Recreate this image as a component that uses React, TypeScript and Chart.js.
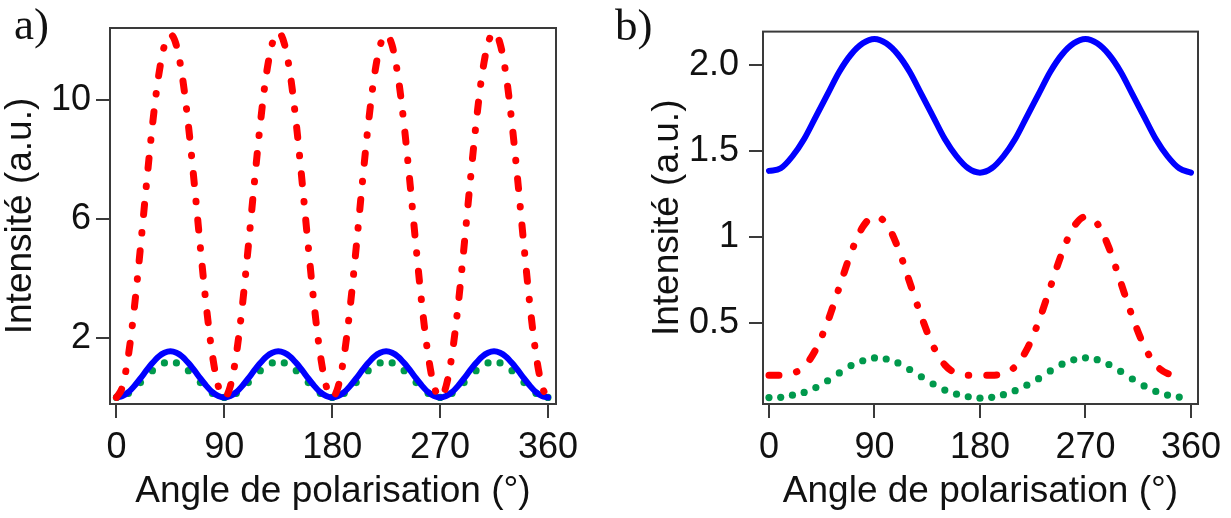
import React, { useEffect, useRef } from 'react';
import { Chart, registerables } from 'chart.js';

Chart.register(...registerables);

// ---------- shared ----------
const xTickValues = [0, 90, 180, 270, 360];
const xTitle = 'Angle de polarisation (°)';
const yTitle = 'Intensité (a.u.)';

// ---------- panel a ----------
const anglesA = [
  0, 5, 10, 15, 20, 25, 30, 35, 40, 45, 50, 55, 60, 65, 70, 75, 80, 85,
  90, 95, 100, 105, 110, 115, 120, 125, 130, 135, 140, 145, 150, 155, 160, 165, 170, 175,
  180, 185, 190, 195, 200, 205, 210, 215, 220, 225, 230, 235, 240, 245, 250, 255, 260, 265,
  270, 275, 280, 285, 290, 295, 300, 305, 310, 315, 320, 325, 330, 335, 340, 345, 350, 355,
  360,
];
const redA = [
  0, 0.37, 1.43, 3.05, 5.04, 7.16, 9.15, 10.77, 11.83, 12.2, 11.83, 10.77, 9.15, 7.16, 5.04, 3.05, 1.43, 0.37,
  0, 0.38, 1.45, 3.08, 5.08, 7.2, 9.2, 10.85, 11.9, 12.28, 11.9, 10.85, 9.2, 7.2, 5.08, 3.08, 1.45, 0.38,
  0, 0.37, 1.43, 3.05, 5.04, 7.16, 9.15, 10.77, 11.83, 12.2, 11.83, 10.77, 9.15, 7.16, 5.04, 3.05, 1.43, 0.37,
  0, 0.38, 1.45, 3.08, 5.08, 7.2, 9.2, 10.85, 11.9, 12.28, 11.9, 10.85, 9.2, 7.2, 5.08, 3.08, 1.45, 0.38,
  0,
];
const blueA = [
  0, 0.05, 0.18, 0.39, 0.64, 0.91, 1.16, 1.37, 1.5, 1.55, 1.5, 1.37, 1.16, 0.91, 0.64, 0.39, 0.18, 0.05,
  0, 0.05, 0.18, 0.39, 0.64, 0.91, 1.16, 1.37, 1.5, 1.55, 1.5, 1.37, 1.16, 0.91, 0.64, 0.39, 0.18, 0.05,
  0, 0.05, 0.18, 0.39, 0.64, 0.91, 1.16, 1.37, 1.5, 1.55, 1.5, 1.37, 1.16, 0.91, 0.64, 0.39, 0.18, 0.05,
  0, 0.05, 0.18, 0.39, 0.64, 0.91, 1.16, 1.37, 1.5, 1.55, 1.5, 1.37, 1.16, 0.91, 0.64, 0.39, 0.18, 0.05,
  0,
];
const anglesA10 = [
  0, 10, 20, 30, 40, 50, 60, 70, 80, 90, 100, 110, 120, 130, 140, 150, 160, 170, 180,
  190, 200, 210, 220, 230, 240, 250, 260, 270, 280, 290, 300, 310, 320, 330, 340, 350, 360,
];
const greenA = [
  0, 0.14, 0.5, 0.9, 1.16, 1.16, 0.9, 0.5, 0.14,
  0, 0.14, 0.5, 0.9, 1.16, 1.16, 0.9, 0.5, 0.14,
  0, 0.14, 0.5, 0.9, 1.16, 1.16, 0.9, 0.5, 0.14,
  0, 0.14, 0.5, 0.9, 1.16, 1.16, 0.9, 0.5, 0.14,
  0,
];
const yTicksA = [2, 6, 10];
const yLabelsA = ['2', '6', '10'];

// ---------- panel b ----------
const anglesB = [
  0, 10, 20, 30, 40, 50, 60, 70, 80, 90, 100, 110, 120, 130, 140, 150, 160, 170, 180,
  190, 200, 210, 220, 230, 240, 250, 260, 270, 280, 290, 300, 310, 320, 330, 340, 350, 360,
];
const blueB = [
  1.385, 1.4, 1.47, 1.57, 1.7, 1.83, 1.96, 2.06, 2.125, 2.15, 2.125, 2.06, 1.96, 1.83, 1.7, 1.57, 1.47, 1.4,
  1.375, 1.4, 1.47, 1.57, 1.7, 1.83, 1.96, 2.06, 2.125, 2.15, 2.125, 2.06, 1.96, 1.83, 1.7, 1.57, 1.47, 1.4,
  1.375,
];
const redB = [
  0.2, 0.2, 0.21, 0.25, 0.35, 0.51, 0.71, 0.91, 1.06, 1.12, 1.08, 0.94, 0.74, 0.54, 0.37, 0.26, 0.21, 0.2,
  0.2, 0.2, 0.21, 0.25, 0.35, 0.51, 0.71, 0.91, 1.06, 1.12, 1.08, 0.94, 0.74, 0.54, 0.37, 0.26, 0.21, 0.2,
];
const greenB = [
  0.07, 0.072, 0.084, 0.1, 0.128, 0.168, 0.213, 0.256, 0.284, 0.3, 0.294, 0.271, 0.233, 0.191, 0.149, 0.114, 0.09, 0.075,
  0.067, 0.072, 0.087, 0.11, 0.142, 0.18, 0.225, 0.264, 0.289, 0.301, 0.29, 0.262, 0.222, 0.178, 0.138, 0.106, 0.085, 0.073,
];
const yTicksB = [0.5, 1, 1.5, 2];
const yLabelsB = ['0.5', '1', '1.5', '2.0'];

// ---------- styles ----------
const RED = '#ff0000';
const BLUE = '#0000ff';
const GREEN = '#00994c';
const FRAME = '#3a3a3a';
const FONT = '"Liberation Sans", Arial, sans-serif';

const zip = (xs: number[], ys: number[]) => ys.map((y, i) => ({ x: xs[i], y }));

function makeFramePlugin(label: string, lx: number, ly: number) {
  return {
    id: 'frameAndLabel',
    beforeDatasetsDraw(chart: any) {
      const { ctx, chartArea: a } = chart;
      ctx.save();
      ctx.strokeStyle = FRAME;
      ctx.lineWidth = 2;
      ctx.strokeRect(a.left, a.top, a.right - a.left, a.bottom - a.top);
      ctx.restore();
    },
    afterDraw(chart: any) {
      const { ctx } = chart;
      ctx.save();
      ctx.font = '45px "Liberation Serif", "Times New Roman", serif';
      ctx.fillStyle = '#111';
      ctx.textBaseline = 'alphabetic';
      ctx.textAlign = 'left';
      ctx.fillText(label, lx, ly);
      ctx.restore();
    },
  };
}

interface PanelCfg {
  datasets: any[];
  xMin: number;
  xMax: number;
  yMin: number;
  yMax: number;
  yTicks: number[];
  yLabels: string[];
  padding: { left: number; right: number; top: number; bottom: number };
  yWidth: number;
  xHeight: number;
  yTickPad: number;
  label: string;
  lx: number;
  ly: number;
}

function buildConfig(c: PanelCfg): any {
  return {
    type: 'line',
    data: { datasets: c.datasets },
    options: {
      responsive: false,
      animation: false,
      events: [],
      layout: { padding: c.padding },
      plugins: { legend: { display: false }, tooltip: { enabled: false } },
      scales: {
        x: {
          type: 'linear',
          min: c.xMin,
          max: c.xMax,
          border: { display: false },
          grid: {
            drawOnChartArea: false,
            drawTicks: true,
            tickLength: 14,
            color: FRAME,
            lineWidth: 2,
          },
          afterBuildTicks: (s: any) => {
            s.ticks = xTickValues.map((v) => ({ value: v }));
          },
          afterFit: (s: any) => {
            s.height = c.xHeight;
          },
          ticks: {
            padding: 8,
            color: '#111',
            font: { family: FONT, size: 36 },
            maxRotation: 0,
            autoSkip: false,
            callback: (v: number) => String(v),
          },
          title: {
            display: true,
            text: xTitle,
            color: '#111',
            font: { family: FONT, size: 37, lineHeight: 1.2 },
            padding: { top: 1, bottom: 4 },
          },
        },
        y: {
          type: 'linear',
          min: c.yMin,
          max: c.yMax,
          border: { display: false },
          grid: {
            drawOnChartArea: false,
            drawTicks: true,
            tickLength: 14,
            color: FRAME,
            lineWidth: 2,
          },
          afterBuildTicks: (s: any) => {
            s.ticks = c.yTicks.map((v) => ({ value: v }));
          },
          afterFit: (s: any) => {
            s.width = c.yWidth;
          },
          ticks: {
            padding: c.yTickPad,
            color: '#111',
            font: { family: FONT, size: 36 },
            autoSkip: false,
            callback: (v: number) => {
              const i = c.yTicks.indexOf(v);
              return i >= 0 ? c.yLabels[i] : '';
            },
          },
          title: {
            display: true,
            text: yTitle,
            color: '#111',
            font: { family: FONT, size: 37, lineHeight: 1.2 },
            padding: { top: -1, bottom: 1 },
          },
        },
      },
    },
    plugins: [makeFramePlugin(c.label, c.lx, c.ly)],
  };
}

const lineDs = (data: any[], color: string, width: number, dash?: number[]) => ({
  data,
  borderColor: color,
  backgroundColor: color,
  borderWidth: width,
  borderDash: dash || [],
  borderCapStyle: 'round',
  borderJoinStyle: 'round',
  pointRadius: 0,
  pointHoverRadius: 0,
  cubicInterpolationMode: 'monotone',
  fill: false,
});

const dotDs = (data: any[], color: string) => ({
  data,
  showLine: false,
  borderColor: color,
  backgroundColor: color,
  pointRadius: 3.6,
  pointBorderWidth: 0,
  pointHoverRadius: 0,
  pointBackgroundColor: color,
});

const DASHDOT = [10, 18, 0.5, 18];

function Panel({ cfg, left, width }: { cfg: PanelCfg; left: number; width: number }) {
  const ref = useRef<HTMLCanvasElement>(null);
  useEffect(() => {
    if (!ref.current) return;
    const chart = new Chart(ref.current, buildConfig(cfg));
    return () => chart.destroy();
  }, []);
  return (
    <canvas
      ref={ref}
      width={width}
      height={518}
      style={{ position: 'absolute', left, top: 0, width, height: 518 }}
    />
  );
}

const panelA: PanelCfg = {
  datasets: [
    lineDs(zip(anglesA, redA), RED, 7, DASHDOT),
    lineDs(zip(anglesA, blueA), BLUE, 6),
    dotDs(zip(anglesA10, greenA), GREEN),
  ],
  xMin: -5.4,
  xMax: 366.7,
  yMin: -0.22,
  yMax: 12.42,
  yTicks: yTicksA,
  yLabels: yLabelsA,
  padding: { left: 0, right: 44, top: 28, bottom: 0 },
  yWidth: 110,
  xHeight: 114,
  yTickPad: 5,
  label: 'a)',
  lx: 14,
  ly: 39,
};

const panelB: PanelCfg = {
  datasets: [
    lineDs(zip(anglesB, redB), RED, 7, DASHDOT),
    lineDs(zip(anglesB, blueB), BLUE, 6),
    dotDs(zip(anglesB, greenB), GREEN),
  ],
  xMin: -5.1,
  xMax: 366,
  yMin: 0.033,
  yMax: 2.193,
  yTicks: yTicksB,
  yLabels: yLabelsB,
  padding: { left: 47, right: 33, top: 29, bottom: 0 },
  yWidth: 116,
  xHeight: 114,
  yTickPad: 10,
  label: 'b)',
  lx: 15,
  ly: 40,
};

export default function App() {
  return (
    <div
      style={{
        position: 'absolute',
        left: 0,
        top: 0,
        width: 1231,
        height: 518,
        background: '#fff',
        overflow: 'hidden',
      }}
    >
      <Panel cfg={panelA} left={0} width={600} />
      <Panel cfg={panelB} left={600} width={631} />
    </div>
  );
}
